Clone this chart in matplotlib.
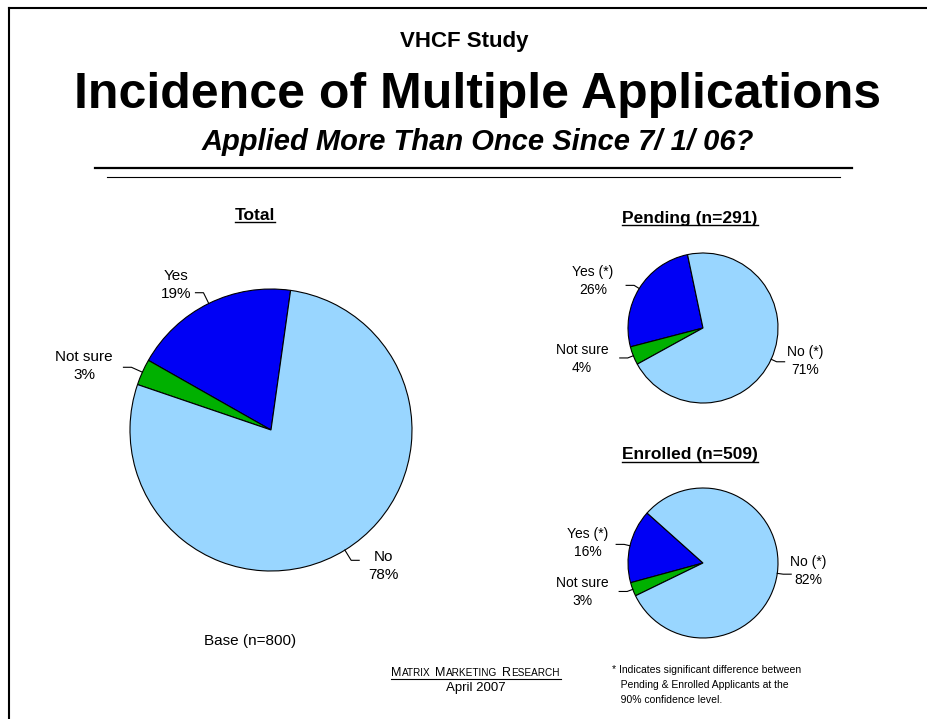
import matplotlib
matplotlib.use("Agg")
import matplotlib.pyplot as plt
import numpy as np

W, H = 927, 719

total_labels = ["Yes", "Not sure", "No"]
total_pct = [19, 3, 78]
pending_labels = ["Yes (*)", "Not sure", "No (*)"]
pending_pct = [26, 4, 71]
enrolled_labels = ["Yes (*)", "Not sure", "No (*)"]
enrolled_pct = [16, 3, 82]

slice_colors = ["#0000F5", "#00B000", "#99D6FF"]

plt.rcParams["font.family"] = ["Liberation Sans", "DejaVu Sans"]

fig = plt.figure(figsize=(W / 100, H / 100), dpi=100)
fig.patch.set_facecolor("white")

# overlay axes in pixel coordinates (y down) for text and lines
ov = fig.add_axes([0, 0, 1, 1], zorder=5)
ov.set_xlim(0, W)
ov.set_ylim(H, 0)
ov.axis("off")
ov.patch.set_alpha(0)

renderer = fig.canvas.get_renderer()


def pie_axes(cx, cy, r):
    m = r + 3
    ax = fig.add_axes([(cx - m) / W, 1 - (cy + m) / H, 2 * m / W, 2 * m / H])
    return ax, m / r


def draw_pie(cx, cy, r, labels, pct, start, label_pos, fs, tick):
    ax, lim = pie_axes(cx, cy, r)
    wedges, _ = ax.pie(pct, colors=slice_colors, startangle=start, radius=1,
                       wedgeprops=dict(edgecolor="black", linewidth=0.8))
    ax.set_xlim(-lim, lim)
    ax.set_ylim(-lim, lim)
    for w, lab, p, (tx, ty) in zip(wedges, labels, pct, label_pos):
        mid = np.deg2rad((w.theta1 + w.theta2) / 2)
        x0, y0 = cx + r * np.cos(mid), cy - r * np.sin(mid)
        x1, y1 = cx + (r + tick) * np.cos(mid), cy - (r + tick) * np.sin(mid)
        x2 = x1 + (8 if tx > x1 else -8)
        ov.plot([x0, x1, x2], [y0, y1, y1], color="black", lw=0.8)
        ov.text(tx, ty, f"{lab}\n{p}%", ha="center", va="center",
                fontsize=fs, linespacing=1.3)


def underlined(x, y, s, fs):
    t = ov.text(x, y, s, ha="center", va="center", fontsize=fs, fontweight="bold")
    bb = t.get_window_extent(renderer=renderer)
    yb = H - bb.y0 - 1
    ov.plot([bb.x0, bb.x1], [yb, yb], color="black", lw=1)


def small_caps(xc, y, s, big, small, gap=4):
    parts = []
    for word in s.split():
        parts.append([(word[0], big), (word[1:].upper(), small)])
    objs = []
    x = 0
    for wi, word in enumerate(parts):
        if wi:
            x += gap
        for txt, fs in word:
            t = ov.text(0, y, txt, ha="left", va="baseline", fontsize=fs)
            wpx = t.get_window_extent(renderer=renderer).width
            objs.append((t, x))
            x += wpx + 0.5
    x_left = xc - x / 2
    for t, off in objs:
        t.set_x(x_left + off)
    ov.plot([x_left, x_left + x], [y + 2.5, y + 2.5], color="black", lw=0.8)


# frame
ov.plot([9, 9], [8, H], color="black", lw=1.5)
ov.plot([9, W], [8, 8], color="black", lw=1.5)

# titles
ov.text(464, 41, "VHCF Study", ha="center", va="center", fontsize=16, fontweight="bold")
ov.text(478, 95, "Incidence of Multiple Applications", ha="center", va="center",
        fontsize=36, fontweight="bold")
ov.text(478, 142, "Applied More Than Once Since 7/ 1/ 06?", ha="center", va="center",
        fontsize=21, fontweight="bold", style="italic")
ov.plot([95, 852], [168, 168], color="black", lw=1.6)
ov.plot([107, 840], [177, 177], color="black", lw=0.8)

# total pie
underlined(255, 215, "Total", 12.5)
draw_pie(271, 430, 141, total_labels, total_pct, 82,
         [(176, 285), (84, 366), (383, 566)], 11, 12)
ov.text(250, 641, "Base (n=800)", ha="center", va="center", fontsize=11)

# pending pie
underlined(690, 218, "Pending (n=291)", 12.5)
draw_pie(703, 328, 75, pending_labels, pending_pct, 101.9,
         [(593, 281), (582, 359), (805, 361)], 10, 6)

# enrolled pie
underlined(690, 455, "Enrolled (n=509)", 12.5)
draw_pie(703, 563, 75, enrolled_labels, enrolled_pct, 138.2,
         [(588, 543), (582, 592), (808, 571)], 10, 6)

# footer
small_caps(476, 676, "Matrix Marketing Research", 9, 7.2)
ov.text(476, 688, "April 2007", ha="center", va="center", fontsize=9.5)
ov.text(612, 685, "* Indicates significant difference between\n"
        "   Pending & Enrolled Applicants at the\n"
        "   90% confidence level.", ha="left", va="center", fontsize=7.5,
        linespacing=1.6)

fig.savefig("out.png", dpi=100)
